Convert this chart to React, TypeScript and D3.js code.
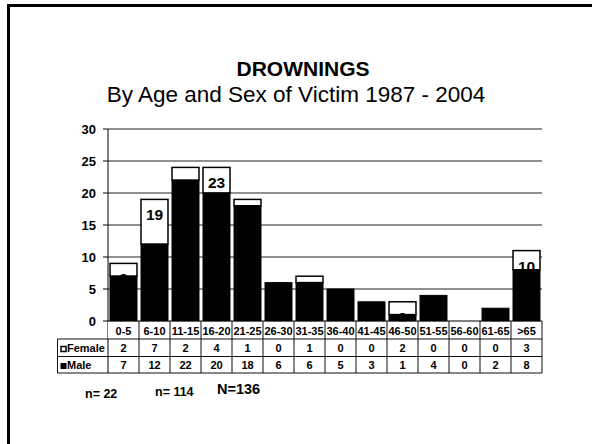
import * as d3 from 'd3';

const categories = ['0-5', '6-10', '11-15', '16-20', '21-25', '26-30', '31-35', '36-40', '41-45', '46-50', '51-55', '56-60', '61-65', '>65'];
const female = [2, 7, 2, 4, 1, 0, 1, 0, 0, 2, 0, 0, 0, 3];
const male = [7, 12, 22, 20, 18, 6, 6, 5, 3, 1, 4, 0, 2, 8];
// data labels as they appear on the slide (some are partly hidden behind the bars)
const barLabels: (number | null)[] = [9, 19, null, 23, null, null, null, null, null, 3, null, null, 2, 10];
const yTicks = [0, 5, 10, 15, 20, 25, 30];
const countNotes = ['n= 22', 'n= 114', 'N=136'];

const FONT = '"Liberation Sans", Arial, Helvetica, sans-serif';

const App = () => {
    const width = 592;
    const height = 444;
    const plot = { left: 108, right: 542, top: 129, bottom: 321 };

    const x = d3.scaleBand<string>()
        .domain(categories)
        .range([plot.left, plot.right])
        .paddingInner(0.13)
        .paddingOuter(0.065);

    const y = d3.scaleLinear().domain([0, 30]).range([plot.bottom, plot.top]);

    const step = x.step();
    const rows = { head: plot.bottom, female: 339, male: 356.5, end: 373 };
    const tableLeft = 57.5;

    return (
        <svg width={width} height={height} style={{ position: 'absolute', left: 0, top: 0 }} fontFamily={FONT}>
            <rect x={0} y={0} width={width} height={height} fill="#fff" />
            {/* slide frame, runs off the right and bottom edges */}
            <rect x={8.5} y={5.5} width={700} height={600} fill="none" stroke="#000" strokeWidth={3} />

            <text x={303} y={76} textAnchor="middle" fontSize={21} fontWeight="bold">DROWNINGS</text>
            <text x={296} y={102} textAnchor="middle" fontSize={22.5}>By Age and Sex of Victim 1987 - 2004</text>

            {/* gridlines + y axis */}
            {yTicks.map((t) => (
                <g key={t}>
                    {t > 0 && <line x1={plot.left} x2={plot.right} y1={y(t)} y2={y(t)} stroke="#222" strokeWidth={1} />}
                    <line x1={plot.left - 5} x2={plot.left} y1={y(t)} y2={y(t)} stroke="#000" />
                    <text x={96} y={y(t) + 4.5} textAnchor="end" fontSize={13} fontWeight="bold">{t}</text>
                </g>
            ))}
            <line x1={plot.left} x2={plot.left} y1={plot.top} y2={rows.end} stroke="#000" />

            {/* female on top of male */}
            {categories.map((c, i) => female[i] > 0 && (
                <rect key={'f' + c} x={x(c)} y={y(male[i] + female[i])} width={x.bandwidth()}
                    height={y(male[i]) - y(male[i] + female[i])} fill="#fff" stroke="#000" strokeWidth={1.5} />
            ))}
            {categories.map((c, i) => barLabels[i] !== null && (
                <text key={'l' + c} x={(x(c) as number) + x.bandwidth() / 2} y={y(male[i] + female[i]) + 21}
                    textAnchor="middle" fontSize={15.5} fontWeight="bold">{barLabels[i]}</text>
            ))}
            {categories.map((c, i) => male[i] > 0 && (
                <rect key={'m' + c} x={x(c)} y={y(male[i])} width={x.bandwidth()}
                    height={y(0) - y(male[i])} fill="#000" stroke="#000" strokeWidth={1} />
            ))}

            {/* data table */}
            <rect x={plot.left} y={rows.head + 0.5} width={plot.right - plot.left} height={rows.female - rows.head - 0.5} fill="#fff" />
            <line x1={plot.left} x2={plot.right} y1={plot.bottom} y2={plot.bottom} stroke="#000" />
            {[rows.female, rows.male, rows.end].map((ry) => (
                <line key={ry} x1={tableLeft} x2={plot.right} y1={ry} y2={ry} stroke="#111" />
            ))}
            <line x1={tableLeft} x2={tableLeft} y1={rows.female} y2={rows.end} stroke="#111" />
            {categories.map((c, i) => (
                <g key={'t' + c}>
                    <line x1={(x(c) as number) - (step - x.bandwidth()) / 2 + step} x2={(x(c) as number) - (step - x.bandwidth()) / 2 + step}
                        y1={rows.head} y2={rows.end} stroke="#111" />
                    <text x={(x(c) as number) + x.bandwidth() / 2} y={335} textAnchor="middle" fontSize={11} fontWeight="bold">{c}</text>
                    <text x={(x(c) as number) + x.bandwidth() / 2} y={352} textAnchor="middle" fontSize={11} fontWeight="bold">{female[i]}</text>
                    <text x={(x(c) as number) + x.bandwidth() / 2} y={369} textAnchor="middle" fontSize={11} fontWeight="bold">{male[i]}</text>
                </g>
            ))}
            <rect x={61} y={346.5} width={5} height={5} fill="#fff" stroke="#000" strokeWidth={1.5} />
            <text x={67} y={352} fontSize={11} fontWeight="bold">Female</text>
            <rect x={60.5} y={363} width={6} height={6} fill="#000" />
            <text x={67} y={369} fontSize={11} fontWeight="bold">Male</text>

            <text x={85} y={397.5} fontSize={12.5} fontWeight="bold">{countNotes[0]}</text>
            <text x={155} y={395.5} fontSize={12.5} fontWeight="bold">{countNotes[1]}</text>
            <text x={217} y={394} fontSize={14.5} fontWeight="bold">{countNotes[2]}</text>
        </svg>
    );
};

export default App;
